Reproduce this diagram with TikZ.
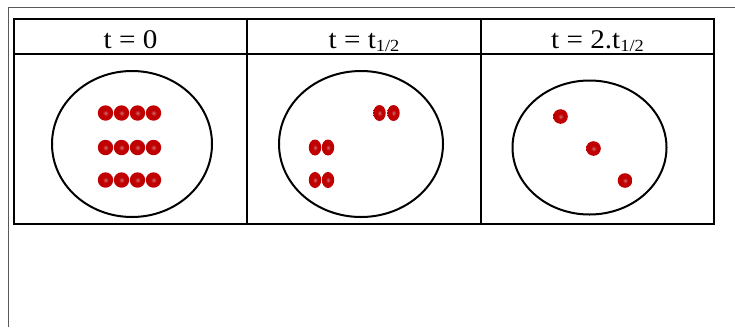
\documentclass[tikz,border=0pt]{standalone}
\usepackage{fontspec}
\setmainfont{Liberation Serif}
\definecolor{atomred}{RGB}{192,0,0}
\definecolor{atomcore}{RGB}{206,112,112}
\pgfdeclareradialshading{atomshade}{\pgfpoint{0bp}{0bp}}{%
  color(0bp)=(atomcore); color(9bp)=(atomred); color(42bp)=(atomred); color(50bp)=(atomred!75!white)}
\tikzset{
  cell/.style={draw, line width=2pt},
  vessel/.style={draw, line width=2pt},
  frame/.style={draw=gray!70!black, line width=1pt},
  head/.style={inner sep=0pt, anchor=base, font=\fontsize{27}{32}\selectfont},
  atom/.style={shading=atomshade}
}
\newcommand{\halflife}{t{\fontsize{17}{20}\selectfont\raisebox{-0.2em}{1/2}}}
\newcommand{\widehead}[1]{\scalebox{1.08}[1]{#1}}

\begin{document}
\begin{tikzpicture}[x=1pt, y=-1pt]
  \useasboundingbox (0,0) rectangle (735,327);
  % outer page frame
  \draw[frame] (8.5,327) -- (8.5,7.5) -- (735,7.5);
  % table
  \draw[cell] (14,19) rectangle (714,224);
  \draw[cell] (14,53.5) -- (714,53.5);
  \draw[cell] (247,19) -- (247,224);
  \draw[cell] (481,19) -- (481,224);
  % column heads
  \node[head] (h0) at (130.5,48) {\widehead{t = 0}};
  \node[head] (h1) at (364,48) {\widehead{t = \halflife}};
  \node[head] (h2) at (597.5,48) {\widehead{t = 2.\halflife}};
  % vessels
  \draw[vessel] (132,144) ellipse (80 and 73);
  \draw[vessel] (361,144) ellipse (82 and 73);
  \draw[vessel] (589.5,147.5) ellipse (77 and 67);
  % atoms
  \foreach \y in {113,147.5,180}
    \foreach \x in {105.5,121.5,137.5,153.5}
      \shade[atom] (\x,\y) circle (7.7);
  \foreach \x/\y in {379.5/113, 393.5/113, 315/147.5, 328/147.5, 315/180, 328/180}
    \shade[atom] (\x,\y) ellipse (6.2 and 8);
  \foreach \x/\y in {560.5/116.5, 593.5/148.5, 625/180.5}
    \shade[atom] (\x,\y) circle (7.3);
\end{tikzpicture}
\end{document}
